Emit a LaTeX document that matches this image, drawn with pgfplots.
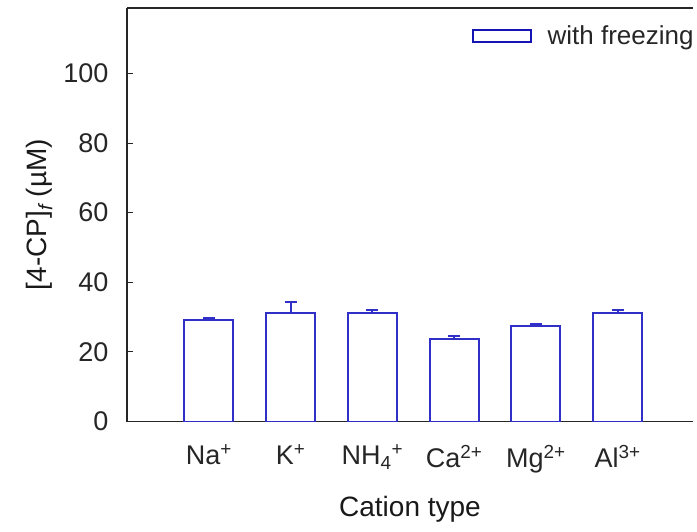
\documentclass[border=0pt]{standalone}
\usepackage{fontspec}
\setmainfont{Liberation Sans}
\usepackage{pgfplots}
\pgfplotsset{compat=1.18}
\definecolor{barblue}{RGB}{48,48,200}
\definecolor{legblue}{RGB}{20,20,180}
\begin{document}
\begin{tikzpicture}[x=1pt,y=1pt]
\useasboundingbox (0,0) rectangle (697,531);
\begin{axis}[
  at={(127pt,109.5pt)}, anchor=south west,
  scale only axis, width=566pt, height=413.5pt,
  xmin=-1, xmax=5.92, ymin=0, ymax=118.8,
  axis x line*=box, axis y line*=left,
  y axis line style={-}, x axis line style={-},
  axis line style={line width=1.2pt, black!85},
  xtick={0,1,2,3,4,5},
  xticklabels={Na\textsuperscript{+}, K\textsuperscript{+}, NH\textsubscript{4}\textsuperscript{+}, Ca\textsuperscript{2+}, Mg\textsuperscript{2+}, Al\textsuperscript{3+}},
  major x tick style={draw=none},
  ytick={0,20,40,60,80,100},
  ytick pos=left, tick align=inside,
  major tick length=6pt,
  major y tick style={line width=1pt, black!85},
  /pgf/number format/assume math mode=true,
  tick label style={font=\fontsize{27}{29}\selectfont, text=black!85},
  yticklabel style={xshift=-15pt},
  xticklabel style={yshift=-20pt},
  xlabel={Cation type},
  ylabel={[4-CP]\textsubscript{\itshape f} (µM)},
  label style={font=\fontsize{28}{30}\selectfont, text=black!90},
  xlabel style={yshift=-16pt},
  ylabel style={yshift=4pt},
  legend style={draw=none, fill=none, at={(1.005,0.963)}, anchor=north east,
    font=\fontsize{26}{28}\selectfont, text=black!85,
    legend cell align=left, inner sep=0pt},
  legend image code/.code={%
    \draw[legblue, fill=white, line width=2.2pt] (0pt,-6pt) rectangle (58pt,6pt);
    \path (72pt,0pt);},
]
\addplot+[ybar, bar width=49pt, draw=barblue, fill=white, line width=2pt, mark=none,
  error bars/.cd, y dir=plus, y explicit,
  error bar style={barblue, line width=2pt},
  error mark options={rotate=90, mark size=6pt, barblue, line width=2pt}]
  coordinates {
    (0,29.3) +- (0,0.3)
    (1,31.1) +- (0,3.2)
    (2,31.1) +- (0,1.0)
    (3,23.6) +- (0,1.1)
    (4,27.5) +- (0,0.4)
    (5,31.1) +- (0,1.0)
  };
\addlegendentry{with freezing}
\end{axis}
\end{tikzpicture}
\end{document}
